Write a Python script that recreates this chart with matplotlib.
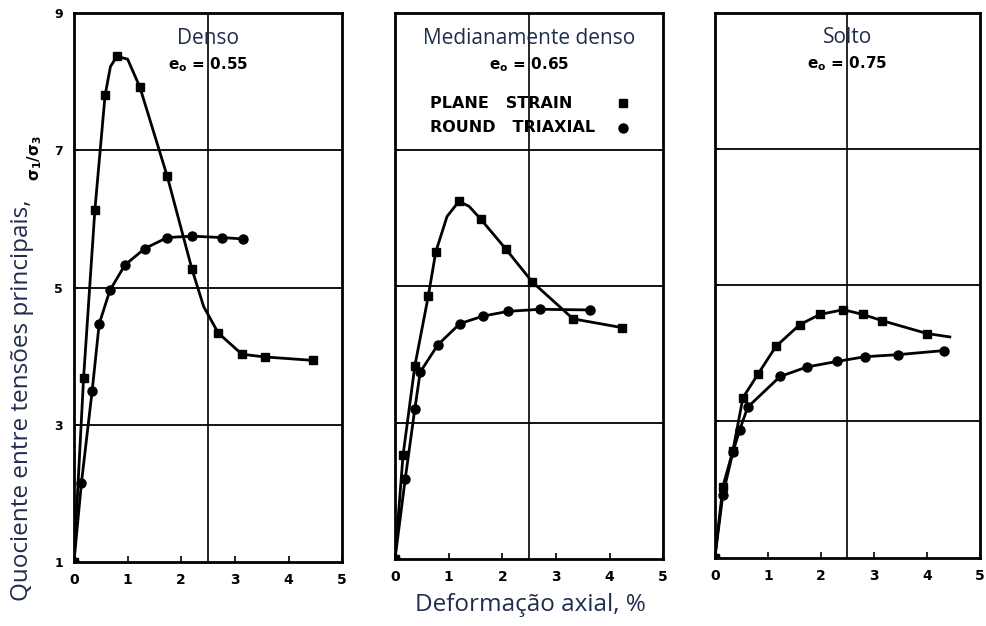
import matplotlib.pyplot as plt

# Denso, e0 = 0.55  (ps = plane strain, rt = round triaxial; *_m = has marker)
denso_ps_x = [0, 0.18, 0.39, 0.58, 0.68, 0.80, 1.00, 1.23, 1.74, 2.20, 2.42, 2.69, 3.13, 3.56, 4.46]
denso_ps_y = [1, 3.69, 6.13, 7.80, 8.22, 8.37, 8.33, 7.92, 6.62, 5.27, 4.72, 4.34, 4.03, 3.99, 3.94]
denso_ps_m = [1, 1, 1, 1, 0, 1, 0, 1, 1, 1, 0, 1, 1, 1, 1]
denso_rt_x = [0, 0.14, 0.34, 0.47, 0.67, 0.95, 1.32, 1.74, 2.20, 2.76, 3.15]
denso_rt_y = [1, 2.16, 3.50, 4.47, 4.96, 5.33, 5.57, 5.73, 5.75, 5.73, 5.71]

# Medianamente denso, e0 = 0.65
medio_ps_x = [0, 0.15, 0.37, 0.62, 0.76, 0.97, 1.19, 1.38, 1.60, 2.07, 2.56, 3.32, 4.24]
medio_ps_y = [1, 2.52, 3.83, 4.85, 5.50, 6.02, 6.24, 6.17, 5.98, 5.54, 5.06, 4.52, 4.39]
medio_ps_m = [1, 1, 1, 1, 1, 0, 1, 0, 1, 1, 1, 1, 1]
medio_rt_x = [0, 0.19, 0.37, 0.47, 0.80, 1.21, 1.64, 2.11, 2.71, 3.64]
medio_rt_y = [1, 2.17, 3.20, 3.74, 4.14, 4.45, 4.56, 4.63, 4.66, 4.65]

# Solto, e0 = 0.75
solto_ps_x = [0, 0.15, 0.34, 0.53, 0.81, 1.15, 1.60, 1.98, 2.42, 2.79, 3.15, 4.00, 4.43]
solto_ps_y = [1, 2.04, 2.57, 3.35, 3.69, 4.10, 4.42, 4.57, 4.64, 4.57, 4.48, 4.29, 4.24]
solto_ps_m = [1] * 12 + [0]
solto_rt_x = [0, 0.15, 0.34, 0.47, 0.62, 1.23, 1.74, 2.30, 2.83, 3.45, 4.32]
solto_rt_y = [1, 1.92, 2.55, 2.88, 3.21, 3.66, 3.80, 3.88, 3.95, 3.98, 4.04]

x_ticks = [0, 1, 2, 3, 4, 5]
y_ticks = [1, 3, 5, 7, 9]

titles = ['Denso', 'Medianamente denso', 'Solto']
e0_labels = ['0.55', '0.65', '0.75']

navy = '#1f2d4d'
num_font = 'DejaVu Sans'
txt_font = 'Open Sans'

fig = plt.figure(figsize=(9.86, 6.26), dpi=100)
boxes = [[0.075, 0.102, 0.272, 0.877],
         [0.4006, 0.107, 0.272, 0.872],
         [0.725, 0.109, 0.269, 0.871]]
series = [(denso_ps_x, denso_ps_y, denso_ps_m, denso_rt_x, denso_rt_y),
          (medio_ps_x, medio_ps_y, medio_ps_m, medio_rt_x, medio_rt_y),
          (solto_ps_x, solto_ps_y, solto_ps_m, solto_rt_x, solto_rt_y)]

for i, box in enumerate(boxes):
    ax = fig.add_axes(box)
    psx, psy, psm, rtx, rty = series[i]
    for yy in [3, 5, 7]:
        ax.axhline(yy, color='black', lw=1.3, zorder=1)
    ax.axvline(2.5, color='black', lw=1.2, zorder=1)
    marked = [k for k, m in enumerate(psm) if m]
    ax.plot(psx, psy, color='black', lw=2, marker='s', ms=6, markevery=marked, zorder=3)
    ax.plot(rtx, rty, color='black', lw=2, marker='o', ms=6.5, zorder=3)
    ax.set_xlim(0, 5)
    ax.set_ylim(1, 9)
    ax.set_xticks(x_ticks)
    ax.set_xticklabels([str(t) for t in x_ticks], fontfamily=num_font,
                       fontweight='bold', fontsize=10)
    ax.set_yticks(y_ticks)
    if i == 0:
        ax.set_yticklabels([str(t) for t in y_ticks], fontfamily=num_font,
                           fontweight='bold', fontsize=9)
    else:
        ax.set_yticklabels([])
    ax.tick_params(axis='x', direction='in', length=4, width=1.2, pad=8)
    ax.tick_params(axis='y', direction='in', length=3, width=1.2, pad=8)
    for s in ax.spines.values():
        s.set_linewidth(2)
    ax.text(0.5, 0.954, titles[i], transform=ax.transAxes, ha='center',
            va='center', fontfamily=txt_font, fontsize=15, color=navy)
    ax.text(0.5, 0.906, r'$\mathbf{e_o}$ = ' + e0_labels[i], transform=ax.transAxes,
            ha='center', va='center', fontfamily=num_font, fontweight='bold',
            fontsize=11)
    if i == 1:
        ax.text(0.13, 0.835, 'PLANE   STRAIN', transform=ax.transAxes, ha='left',
                va='center', fontfamily=num_font, fontweight='bold', fontsize=11.5)
        ax.text(0.13, 0.79, 'ROUND   TRIAXIAL', transform=ax.transAxes, ha='left',
                va='center', fontfamily=num_font, fontweight='bold', fontsize=11.5)
        ax.plot([0.85], [0.835], 's', color='black', ms=6, transform=ax.transAxes)
        ax.plot([0.85], [0.79], 'o', color='black', ms=6.5, transform=ax.transAxes)

fig.text(0.538, 0.034, 'Deformação axial, %', ha='center', va='center',
         fontfamily=txt_font, fontsize=17.5, color=navy)
fig.text(0.022, 1 - 400 / 626, 'Quociente entre tensões principais,', rotation=90,
         ha='center', va='center', fontfamily=txt_font, fontsize=17.5, color=navy)
fig.text(0.035, 1 - 158 / 626, r'$\boldsymbol{\sigma_1/\sigma_3}$'.replace(r'\boldsymbol', r'\mathbf'),
         rotation=90, ha='center', va='center', fontsize=11, color='black')

fig.savefig('out.png', dpi=100)
